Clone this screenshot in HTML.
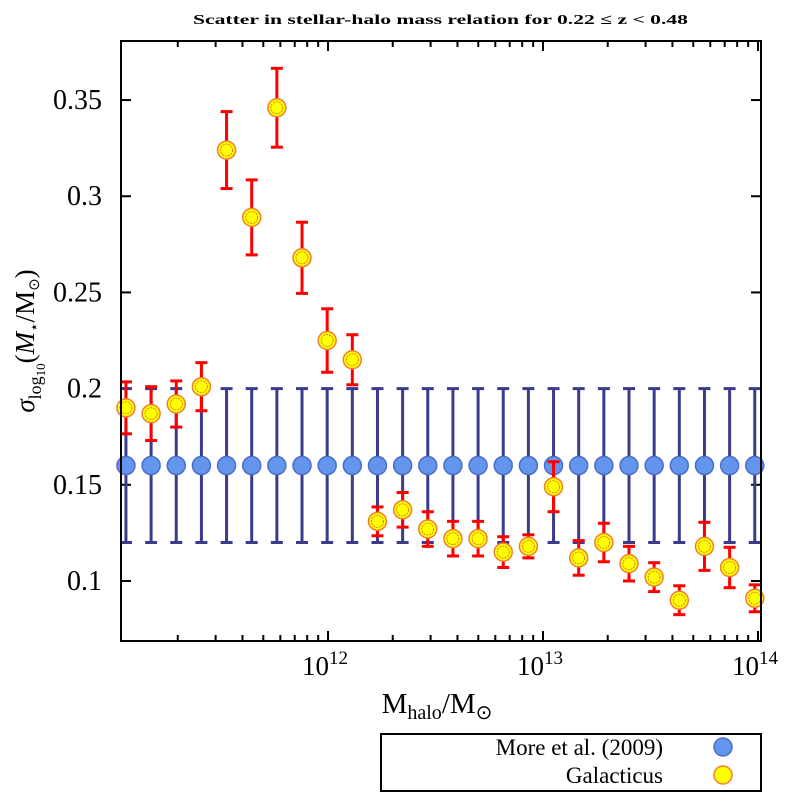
<!DOCTYPE html>
<html><head><meta charset="utf-8"><style>
body{margin:0;background:#fff}
svg text{font-family:"Liberation Serif",serif;fill:#000}
</style></head><body>
<svg id="c" width="800" height="800" viewBox="0 0 800 800"></svg>
<script>
const logMass=[11.06,11.177,11.294,11.411,11.528,11.645,11.762,11.879,11.996,12.113,12.23,12.347,12.464,12.581,12.698,12.815,12.932,13.049,13.166,13.283,13.4,13.517,13.634,13.751,13.868,13.985];
const moreVals=[0.16,0.16,0.16,0.16,0.16,0.16,0.16,0.16,0.16,0.16,0.16,0.16,0.16,0.16,0.16,0.16,0.16,0.16,0.16,0.16,0.16,0.16,0.16,0.16,0.16,0.16];
const moreErr=[0.04,0.04,0.04,0.04,0.04,0.04,0.04,0.04,0.04,0.04,0.04,0.04,0.04,0.04,0.04,0.04,0.04,0.04,0.04,0.04,0.04,0.04,0.04,0.04,0.04,0.04];
const galVals=[0.190,0.187,0.192,0.201,0.324,0.289,0.346,0.268,0.225,0.215,0.131,0.137,0.127,0.122,0.122,0.115,0.118,0.149,0.112,0.120,0.109,0.102,0.090,0.118,0.107,0.091];
const galErr=[0.0135,0.014,0.012,0.0125,0.02,0.0195,0.0205,0.0185,0.0165,0.013,0.0075,0.009,0.009,0.009,0.009,0.008,0.006,0.013,0.009,0.01,0.009,0.0075,0.0075,0.0125,0.0105,0.007];
const yTicks=[0.1,0.15,0.2,0.25,0.3,0.35];
const yTickLabels=["0.1","0.15","0.2","0.25","0.3","0.35"];
const xDecades=[12,13,14];

const L=121,R=761,T=41,B=641;
const xmin=11.037,xmax=14.014,ymin=0.0688,ymax=0.3807;
const X=v=>L+(v-xmin)/(xmax-xmin)*(R-L);
const Y=v=>B-(v-ymin)/(ymax-ymin)*(B-T);
const svg=document.getElementById('c');
const NS='http://www.w3.org/2000/svg';
function mk(tag,at,parent){const e=document.createElementNS(NS,tag);for(const k in at)e.setAttribute(k,at[k]);(parent||svg).appendChild(e);return e;}

let t=mk('text',{x:193,y:24,'font-size':'14','font-weight':'bold',textLength:495,lengthAdjust:'spacingAndGlyphs'});
t.textContent='Scatter in stellar-halo mass relation for 0.22 ≤ z < 0.48';



const g=mk('g',{stroke:'#000','stroke-width':'2',fill:'none'});


for(let d=11;d<=14;d++){for(let m=1;m<10;m++){const v=d+Math.log10(m);if(v<xmin||v>xmax)continue;const len=m===1?10:6;const x=X(v);
mk('line',{x1:x,y1:B,x2:x,y2:B-len},g);mk('line',{x1:x,y1:T,x2:x,y2:T+len},g);}}
yTicks.forEach((v,i)=>{const y=Y(v);mk('line',{x1:L,y1:y,x2:L+10,y2:y},g);mk('line',{x1:R,y1:y,x2:R-10,y2:y},g);
const tx=mk('text',{x:102,y:y+9,'text-anchor':'end','font-size':'28'});tx.textContent=yTickLabels[i];

});
xDecades.forEach(d=>{const x=X(d);const tx=mk('text',{x:x-3,y:675,'text-anchor':'middle','font-size':'27'});
tx.innerHTML='10<tspan dy="-11" font-size="19">'+d+'</tspan>';

});

function series(vals,errs,xs,barColor,name,fill,stroke,inner){
 const gg=mk('g',{});
 
 
 xs.forEach((lv,i)=>{const x=X(lv),y1=Y(vals[i]-errs[i]),y2=Y(vals[i]+errs[i]);
  mk('line',{x1:x,y1:y1,x2:x,y2:y2,stroke:barColor,'stroke-width':3},gg);
  mk('line',{x1:x-6,y1:y1,x2:x+6,y2:y1,stroke:barColor,'stroke-width':3},gg);
  mk('line',{x1:x-6,y1:y2,x2:x+6,y2:y2,stroke:barColor,'stroke-width':3},gg);});
 xs.forEach((lv,i)=>{const c=mk('circle',{cx:X(lv),cy:Y(vals[i]),r:9,fill:fill,stroke:stroke,'stroke-width':1.5},gg);
  
  
  if(inner)mk('circle',{cx:X(lv),cy:Y(vals[i]),r:6,fill:'none',stroke:inner,'stroke-width':0.8,'stroke-dasharray':'2 1'},gg);});
}
series(moreVals,moreErr,logMass,'#3b3b8c','more-series','#6495ed','#4a6fc8',null);
series(galVals,galErr,logMass,'#ff0000','galacticus-series','#ffff00','#f08030','#e06020');

mk('rect',{x:L,y:T,width:R-L,height:B-T,fill:'none',stroke:'#000','stroke-width':2});

let yl=mk('text',{transform:'translate(34,341) rotate(-90)','text-anchor':'middle','font-size':'27'});
yl.innerHTML='<tspan font-style="italic">σ</tspan><tspan dy="7" font-size="18">log<tspan dy="4" font-size="13">10</tspan></tspan><tspan dy="-11">(</tspan><tspan font-style="italic">M</tspan><tspan dy="5" font-size="15">⋆</tspan><tspan dy="-5">/M</tspan><tspan dy="5" font-size="15">⊙</tspan><tspan dy="-5">)</tspan>';


let xl=mk('text',{x:437,y:713,'text-anchor':'middle','font-size':'29'});
xl.innerHTML='M<tspan dy="6" font-size="20">halo</tspan><tspan dy="-6">/M</tspan><tspan dy="6" font-size="20">⊙</tspan>';



const lg=mk('g',{});


mk('rect',{x:381,y:734,width:380,height:57,fill:'#fff',stroke:'#000','stroke-width':2},lg);
[['More et al. (2009)','#6495ed','#4a6fc8',747],['Galacticus','#ffff00','#f08030',775]].forEach(e=>{
 const tx=mk('text',{x:663,y:e[3]+8,'text-anchor':'end','font-size':'23'},lg);tx.textContent=e[0];
 
 
 mk('circle',{cx:723,cy:e[3],r:9,fill:e[1],stroke:e[2],'stroke-width':1.5},lg);});
</script>
</body></html>
